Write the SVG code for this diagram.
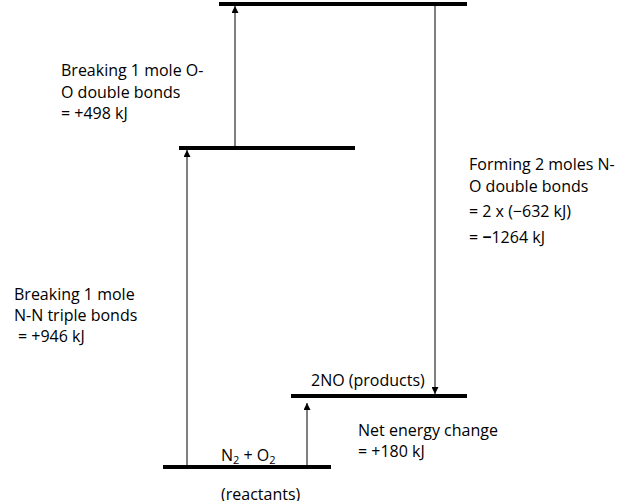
<svg xmlns="http://www.w3.org/2000/svg" width="621" height="501" viewBox="0 0 621 501">
<style>
.lvl{stroke:#000;stroke-width:4;fill:none}
.arr{stroke:#555;stroke-width:1.5;fill:none}
text{font-family:"Open Sans","Liberation Sans",sans-serif;font-size:16px;fill:#000}
</style>
<defs>
<marker id="ah" viewBox="0 0 10 10" refX="10" refY="5" markerWidth="7" markerHeight="7" markerUnits="userSpaceOnUse" orient="auto"><path d="M0,0L10,5L0,10z" fill="#000"/></marker>
</defs>
<rect width="621" height="501" fill="#fff"/>
<g id="levels">
<g id="top"><line class="lvl" x1="219" y1="4" x2="467" y2="4"/></g>
<g id="middle"><line class="lvl" x1="179" y1="148" x2="355" y2="148"/></g>
<g id="products"><line class="lvl" x1="291" y1="396" x2="467" y2="396"/><text x="311" y="386">2NO (products)</text></g>
<g id="reactants"><line class="lvl" x1="163" y1="467" x2="331" y2="467"/><text x="221" y="461">N<tspan font-size="11" dy="3">2</tspan><tspan dy="-3"> + O</tspan><tspan font-size="11" dy="3">2</tspan></text><text x="221" y="500">(reactants)</text></g>
</g>
<g id="connectors">
<line class="arr" x1="187" y1="465" x2="187" y2="150" marker-end="url(#ah)"/>
<line class="arr" x1="235" y1="146" x2="235" y2="6" marker-end="url(#ah)"/>
<line class="arr" x1="435" y1="6" x2="435" y2="394" marker-end="url(#ah)"/>
<line class="arr" x1="307" y1="465" x2="307" y2="403" marker-end="url(#ah)"/>
</g>
<g id="labels">
<text x="61" y="76">Breaking 1 mole O-</text>
<text x="61" y="98">O double bonds</text>
<text x="61" y="119">= +498 kJ</text>
<text x="469" y="170">Forming 2 moles N-</text>
<text x="469" y="192">O double bonds</text>
<text x="469" y="217">= 2 x (−632 kJ)</text>
<text x="469" y="243">= <tspan font-weight="bold">−</tspan>1264 kJ</text>
<text x="14" y="300">Breaking 1 mole</text>
<text x="14" y="321">N-N triple bonds</text>
<text x="18" y="342">= +946 kJ</text>
<text x="358" y="436">Net energy change</text>
<text x="358" y="457">= +180 kJ</text>
</g>
</svg>
